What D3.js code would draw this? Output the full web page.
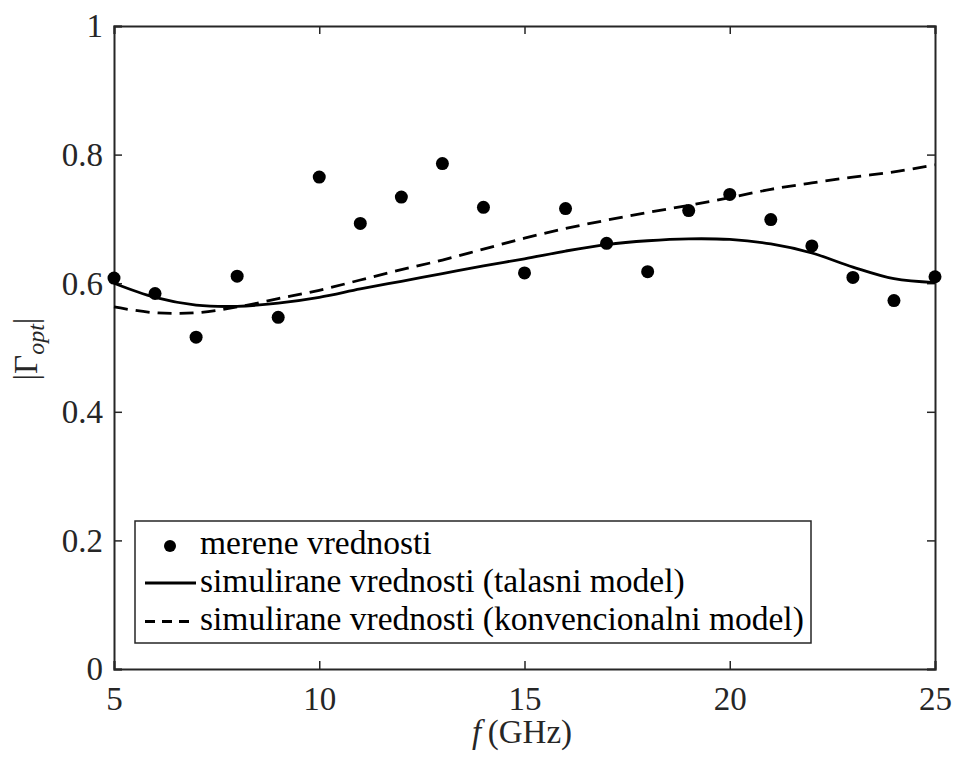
<!DOCTYPE html>
<html><head><meta charset="utf-8">
<script src="https://cdn.jsdelivr.net/npm/d3@7"></script>
<style>body{margin:0;background:#fff}svg{display:block}</style>
</head><body><svg id="c" width="955" height="758"></svg>
<script>
const freqMeas = [5,6,7,8,9,10,11,12,13,14,15,16,17,18,19,20,21,22,23,24,25];
const measured = [0.608,0.584,0.516,0.611,0.547,0.765,0.693,0.734,0.786,0.718,0.616,0.716,0.662,0.618,0.713,0.738,0.699,0.658,0.609,0.573,0.610];
const freqSim = [5,6,7,8,9,10,11,12,13,14,15,16,17,18,19,20,21,22,23,24,25];
const simWave = [0.600,0.578,0.566,0.564,0.569,0.578,0.591,0.603,0.615,0.627,0.638,0.650,0.660,0.666,0.669,0.668,0.661,0.647,0.625,0.607,0.601];
const simConv = [0.563,0.554,0.554,0.563,0.576,0.589,0.605,0.621,0.636,0.653,0.670,0.685,0.698,0.710,0.721,0.733,0.746,0.756,0.765,0.773,0.784];
const xTicks = [5,10,15,20,25];
const yTicks = [0,0.2,0.4,0.6,0.8,1];
const legendLabels = ["merene vrednosti","simulirane vrednosti (talasni model)","simulirane vrednosti (konvencionalni model)"];

const FONT = '"Liberation Serif","Times New Roman",Times,serif';
const svg = d3.select("#c");
const L=114,R=935,T=26,B=669;
const x = d3.scaleLinear().domain([5,25]).range([L,R]);
const y = d3.scaleLinear().domain([0,1]).range([B,T]);
const axCol="#262626";
const fmt = d=> d===0||d===1? String(d) : d3.format(".1f")(d);

const gB = svg.append("g").attr("transform",`translate(0,${B})`).call(d3.axisBottom(x).tickValues(xTicks).tickSize(-8).tickFormat(d3.format("d")));
const gT = svg.append("g").attr("transform",`translate(0,${T})`).call(d3.axisTop(x).tickValues(xTicks).tickSize(-8).tickFormat(""));
const gL = svg.append("g").attr("transform",`translate(${L},0)`).call(d3.axisLeft(y).tickValues(yTicks).tickSize(-8).tickPadding(11).tickFormat(fmt));
const gR = svg.append("g").attr("transform",`translate(${R},0)`).call(d3.axisRight(y).tickValues(yTicks).tickSize(-8).tickFormat(""));
[gB,gT,gL,gR].forEach(g=>{
  g.attr("font-family",null);
  g.selectAll(".domain").attr("stroke",axCol).attr("stroke-width",2);
  g.selectAll(".tick line").attr("stroke",axCol).attr("stroke-width",1.5);
  g.selectAll("text").style("font-family",FONT).style("font-size","33px").attr("fill",axCol);
});
gB.selectAll(".tick text").attr("y",41).attr("dy",0);
gL.selectAll(".tick text").attr("dy","0.33em");

const line = d3.line().x(d=>x(d[0])).y(d=>y(d[1])).curve(d3.curveCatmullRom.alpha(0.5));
svg.append("path").datum(freqSim.map((f,i)=>[f,simWave[i]])).attr("d",line)
  .attr("fill","none").attr("stroke","#000").attr("stroke-width",2.8);
svg.append("path").datum(freqSim.map((f,i)=>[f,simConv[i]])).attr("d",line)
  .attr("fill","none").attr("stroke","#000").attr("stroke-width",2.8).attr("stroke-dasharray","14,8");
svg.append("g").selectAll("circle").data(freqMeas.map((f,i)=>[f,measured[i]])).join("circle")
  .attr("cx",d=>x(d[0])).attr("cy",d=>y(d[1])).attr("r",6.5).attr("fill","#000");

// legend
const lg = svg.append("g");
lg.append("rect").attr("x",135).attr("y",521).attr("width",676).attr("height",122)
  .attr("fill","#fff").attr("stroke",axCol).attr("stroke-width",1.5);
const baseY=[554,592,630];
const markY=[546,583,621.5];
lg.append("circle").attr("cx",170).attr("cy",markY[0]).attr("r",6).attr("fill","#000");
lg.append("line").attr("x1",145).attr("x2",196).attr("y1",markY[1]).attr("y2",markY[1]).attr("stroke","#000").attr("stroke-width",2.8);
lg.append("line").attr("x1",145).attr("x2",196).attr("y1",markY[2]).attr("y2",markY[2]).attr("stroke","#000").attr("stroke-width",2.8).attr("stroke-dasharray","10,7");
legendLabels.forEach((t,i)=>{
  lg.append("text").attr("x",200).attr("y",baseY[i]).style("font-family",FONT).style("font-size","33.5px").attr("fill","#000").text(t);
});

// x label
const xl = svg.append("text").attr("x",522).attr("y",743).attr("text-anchor","middle").style("font-family",FONT).style("font-size","33px").attr("fill",axCol);
xl.append("tspan").attr("font-style","italic").text("f");
xl.append("tspan").text("\u2009(GHz)");

// y label
const yl = svg.append("text").attr("transform","translate(37,349) rotate(-90)").attr("text-anchor","middle").style("font-family",FONT).style("font-size","33px").attr("fill",axCol);
yl.append("tspan").text("|\u0393");
yl.append("tspan").attr("font-style","italic").style("font-size","24px").attr("dy",7).text("opt");
yl.append("tspan").attr("dy",-7).text("|");
</script></body></html>
